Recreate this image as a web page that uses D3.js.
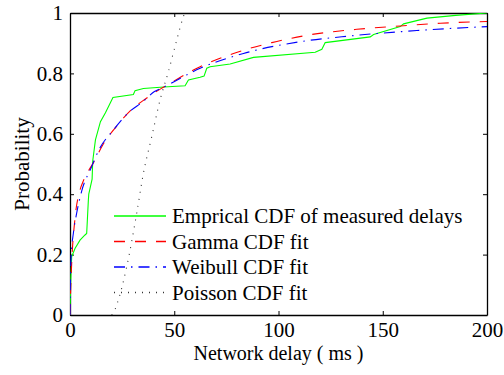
<!DOCTYPE html>
<meta charset="utf-8">
<head>
  <title>Network delay CDF</title>
</head>
<style>
  body { margin: 0; background: #fff; }
  svg text { font-family: "Liberation Serif", "Times New Roman", serif; fill: #000; font-size: 21px; }
</style>
<body>
  <div id="chart"></div>
  <script src="https://d3js.org/d3.v7.min.js"></script>
  <script>

  // empirical CDF of measured delays (delay ms, probability)
  var empDelay = [0, 0.3, 0.8, 2.4, 4.8, 7.2, 8, 8.8, 9, 10.6, 10.9, 12.2, 14.6, 17, 20.6, 30.4, 31.2, 35.2, 45, 55.2, 56.8, 62.4, 64.3, 65.6, 67.2, 76.8, 88, 117.6, 120.8, 122.4, 144, 145.6, 158.4, 160, 171.2, 185, 200];
  var empProb  = [0, 0.1, 0.193, 0.22, 0.248, 0.265, 0.27, 0.38, 0.40, 0.45, 0.51, 0.58, 0.64, 0.67, 0.72, 0.73, 0.743, 0.75, 0.755, 0.759, 0.778, 0.787, 0.791, 0.817, 0.822, 0.831, 0.853, 0.87, 0.88, 0.902, 0.921, 0.929, 0.955, 0.964, 0.983, 0.992, 1.0];

  // Gamma CDF fit
  var gamDelay = [0, 0.3, 0.8, 2.4, 4.8, 6.4, 11.7, 15.7, 22.1, 30.1, 36.5, 41.3, 44.8, 59.2, 62.4, 78.4, 96.8, 115.2, 137.6, 158.4, 177.6, 200];
  var gamProb  = [0, 0.08, 0.17, 0.32, 0.414, 0.444, 0.51, 0.563, 0.623, 0.684, 0.717, 0.74, 0.754, 0.811, 0.822, 0.866, 0.902, 0.928, 0.946, 0.957, 0.966, 0.972];

  // Weibull CDF fit
  var weiDelay = [0, 0.2, 0.6, 1.6, 3.2, 5.6, 10.1, 14.1, 20.5, 28.5, 34.9, 40.5, 44.8, 62.4, 83.2, 110.4, 134.4, 166.4, 200];
  var weiProb  = [0, 0.12, 0.2, 0.27, 0.337, 0.41, 0.487, 0.55, 0.61, 0.673, 0.706, 0.74, 0.754, 0.817, 0.866, 0.905, 0.924, 0.942, 0.955];

  // Poisson CDF fit
  var poiDelay = [20, 21.5, 23.2, 27.2, 32, 35.2, 39.2, 43.2, 47.2, 51.2, 54.1, 55];
  var poiProb  = [0, 0.017, 0.05, 0.16, 0.337, 0.469, 0.59, 0.712, 0.806, 0.911, 0.982, 1.0];

  var xTicks = [0, 50, 100, 150, 200];
  var yTicks = [0, 0.2, 0.4, 0.6, 0.8, 1];
  var legendLabels = ["Emprical CDF of measured delays", "Gamma CDF fit", "Weibull CDF fit", "Poisson CDF fit"];

  var W = 504, H = 375;
  var margin = {top: 13, right: 17, bottom: 60, left: 70},
      width = W - margin.left - margin.right,
      height = H - margin.top - margin.bottom;

  var svg = d3.select("#chart").append("svg")
      .attr("width", W).attr("height", H)
    .append("g")
      .attr("transform", "translate(" + margin.left + "," + margin.top + ")");

  var x = d3.scaleLinear().domain([0, 200]).range([0, width]);
  var y = d3.scaleLinear().domain([0, 1]).range([height, 0]);

  svg.append("defs").append("clipPath").attr("id", "clip")
    .append("rect").attr("width", width).attr("height", height);

  // axes with inward ticks, box style
  var fmt = function(d) { return d3.format("~g")(d); };
  var gx = svg.append("g").attr("transform", "translate(0," + height + ")")
      .call(d3.axisBottom(x).tickValues(xTicks).tickSizeInner(-4).tickSizeOuter(0).tickPadding(7).tickFormat(fmt));
  var gy = svg.append("g")
      .call(d3.axisLeft(y).tickValues(yTicks).tickSizeInner(-4).tickSizeOuter(0).tickPadding(7).tickFormat(fmt));
  var gt = svg.append("g")
      .call(d3.axisTop(x).tickValues(xTicks).tickSizeInner(-4).tickSizeOuter(0).tickFormat(""));
  var gr = svg.append("g").attr("transform", "translate(" + width + ",0)")
      .call(d3.axisRight(y).tickValues(yTicks).tickSizeInner(-4).tickSizeOuter(0).tickFormat(""));

  [gx, gy, gt, gr].forEach(function(g) {
    g.attr("font-family", null).attr("font-size", null);
    g.select(".domain").attr("stroke", "#000").attr("stroke-width", 1.3);
    g.selectAll(".tick line").attr("stroke", "#000");
    g.selectAll(".tick text")
      .style("font-family", "'Liberation Serif', 'Times New Roman', serif")
      .style("font-size", "21px");
  });

  // curves
  function series(xs, ys) { return xs.map(function(d, i) { return [d, ys[i]]; }); }
  var lineLin = d3.line().x(function(d) { return x(d[0]); }).y(function(d) { return y(d[1]); });
  var lineSmooth = d3.line().curve(d3.curveMonotoneX).x(function(d) { return x(d[0]); }).y(function(d) { return y(d[1]); });

  var styles = [
    {color: "#00ff00", dash: null},
    {color: "#ff0000", dash: "11,10"},
    {color: "#0000ff", dash: "11,6,1.5,6"},
    {color: "#333333", dash: "1,6"}
  ];

  var plot = svg.append("g").attr("clip-path", "url(#clip)");
  var data = [
    {pts: series(empDelay, empProb), gen: lineLin},
    {pts: series(gamDelay, gamProb), gen: lineSmooth},
    {pts: series(weiDelay, weiProb), gen: lineSmooth},
    {pts: series(poiDelay, poiProb), gen: lineSmooth}
  ];
  data.forEach(function(s, i) {
    plot.append("path")
      .attr("d", s.gen(s.pts))
      .attr("fill", "none")
      .attr("stroke", styles[i].color)
      .attr("stroke-width", 1.1)
      .attr("stroke-dasharray", styles[i].dash);
  });

  // legend
  var leg = svg.append("g").attr("transform", "translate(44,203)");
  legendLabels.forEach(function(lab, i) {
    var yy = i * 25.5;
    leg.append("line").attr("x1", 0).attr("x2", 52).attr("y1", yy).attr("y2", yy)
      .attr("stroke", styles[i].color).attr("stroke-width", 1.5)
      .attr("stroke-dasharray", styles[i].dash);
    leg.append("text").attr("x", 58).attr("y", yy).attr("dy", "0.35em").text(lab);
  });

  // axis labels
  svg.append("text").attr("x", width / 2).attr("y", height + 45)
    .attr("text-anchor", "middle").style("font-size", "20px").text("Network delay ( ms )");
  svg.append("text").attr("transform", "translate(-41,151) rotate(-90)")
    .attr("text-anchor", "middle").text("Probability");

  </script>
</body>
</html>
